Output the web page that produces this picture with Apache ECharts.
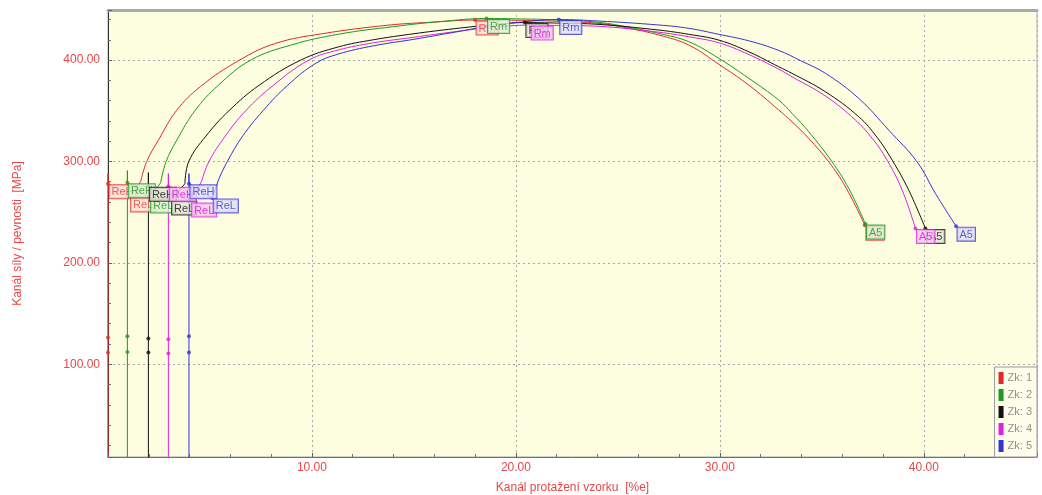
<!DOCTYPE html>
<html>
<head>
<meta charset="utf-8">
<script src="https://cdn.jsdelivr.net/npm/echarts@6/dist/echarts.min.js"></script>
<style>
  html, body { margin: 0; padding: 0; background: #ffffff; }
  #chart { width: 1042px; height: 495px; }
</style>
</head>
<body>
<div id="chart"></div>
<script>
// Tensile test: force / strength channel vs. specimen elongation, five specimens
const specimens = ['Zk: 1', 'Zk: 2', 'Zk: 3', 'Zk: 4', 'Zk: 5'];
const pointNames = ['ReH', 'ReL', 'Rm', 'A5'];

// elastic spike top of each specimen [MPa]
const elasticTop = [288, 291, 289, 288, 288];

// evaluation points [elongation %, stress MPa]
const reH = [[0, 278], [0.95, 279], [1.98, 275.5], [2.96, 275.5], [3.97, 278]];
const reL = [[1.06, 265], [2.04, 264], [3.07, 262], [4.05, 260], [5.11, 264]];
const rm  = [[18.0, 439.5], [18.56, 441], [20.44, 437], [20.7, 434.5], [22.1, 440]];
const a5  = [[37.11, 237.2], [37.14, 238.2], [40.08, 233.9], [39.59, 233.9], [41.58, 236.2]];

// modulus evaluation points on the elastic line (upper, lower)
const modulusPts = [
  [[0, 126.3], [0, 111.5]],
  [[0.95, 127.6], [0.95, 112]],
  [[1.98, 125.3], [1.98, 111.5]],
  [[2.96, 124.6], [2.96, 110.5]],
  [[3.97, 127.6], [3.97, 111.5]]
];

// strain hardening branch (after yield, before Rm)
const rise1 = [[1.6, 280], [1.9, 300], [2.5, 322], [3.35, 350], [4.54, 374], [6.45, 400], [8.22, 416.5], [10.5, 426], [13.77, 434.5], [16, 437.5]];
const rise2 = [[2.58, 279], [2.85, 300], [3.4, 322], [4.26, 350], [5.4, 375], [7.0, 400], [9.0, 415], [11.3, 425.5], [14, 433], [16.3, 438]];
const rise3 = [[3.77, 278], [3.96, 300], [4.8, 325], [5.93, 350], [7.4, 375], [9.45, 400], [11.3, 413], [13, 420], [15, 426], [17, 431], [18.7, 434.5]];
const rise4 = [[4.6, 281], [4.95, 300], [5.75, 325], [6.75, 350], [8.1, 375], [9.85, 400], [11.3, 410], [13, 417], [15, 422.5], [17, 428], [18.7, 432]];
const rise5 = [[5.44, 283], [5.85, 300], [6.6, 325], [7.6, 350], [8.8, 375], [10.2, 397], [11.3, 406], [13, 414], [15, 420.5], [17, 427.5], [19, 434.5], [20.8, 438.5]];

// necking branch (after Rm, before fracture)
const fall1 = [[20, 439.3], [22, 438.3], [24.07, 436.2], [25.5, 431.5], [27.01, 424.7], [28.48, 414.8], [29.95, 395.8], [31.42, 375.3], [32.89, 350.7], [33.54, 339.1], [34.36, 322.7], [35.34, 299.6], [36.16, 275]];
const fall2 = [[20, 440.7], [22, 439.6], [24.07, 437.2], [25.5, 432.5], [27.01, 426.3], [28.48, 418.1], [29.95, 401.7], [31.42, 382], [32.89, 360.5], [33.54, 347.4], [34.36, 329.3], [35.5, 299.6], [36.32, 273.4]];
const fall3 = [[22, 436.5], [24.07, 435.2], [27.01, 429.6], [28.48, 425.4], [29.95, 419.7], [31.42, 408.2], [32.89, 393.4], [33.54, 386.9], [35.18, 368.7], [36.81, 344.1], [37.7, 324], [38.45, 301.3], [39.26, 271.7]];
const fall4 = [[22, 434.2], [24.07, 433.3], [27.01, 427.5], [28.48, 423], [29.95, 417], [31.42, 405.5], [32.89, 391], [33.54, 383.5], [35.18, 364.5], [36.65, 340.8], [37.5, 322], [38.2, 301.3], [38.94, 271.7]];
const fall5 = [[24.07, 438.5], [27.01, 434.6], [28.48, 431.3], [29.95, 425.4], [31.42, 419], [32.89, 409.5], [33.95, 399.5], [35.18, 386.9], [36.81, 362.2], [38.28, 330.9], [39.67, 299.6], [40.57, 268.5]];

const rises = [rise1, rise2, rise3, rise4, rise5];
const falls = [fall1, fall2, fall3, fall4, fall5];

// styling
const lineColors  = ['#e02a2a', '#1f9a1f', '#111111', '#e020e0', '#3434d4'];
const labelText   = ['#e04040', '#2a9a2a', '#111111', '#d020d0', '#3a3ad0'];
const labelFill   = ['#fbe0da', '#dcefd6', '#e2e2da', '#f6c4f4', '#dedef6'];
const axisRed = '#e44848';
const fontFam = 'Liberation Sans, Arial, sans-serif';

// elastic line, yield drop and the step to the start of hardening
function buildElastic(i) {
  const x0 = reH[i][0];
  return [[x0, 0], [x0, elasticTop[i]], reH[i], reL[i], rises[i][0]];
}

// hardening + necking, ending at fracture
function buildPlastic(i) {
  return rises[i].concat([rm[i]], falls[i], [a5[i]]);
}

const elasticSeries = specimens.map((name, i) => ({
  name: name,
  type: 'line',
  data: buildElastic(i),
  showSymbol: false,
  lineStyle: { color: lineColors[i], width: 1 },
  itemStyle: { color: lineColors[i] },
  z: 2,
  silent: true
}));

const plasticSeries = specimens.map((name, i) => ({
  name: name,
  type: 'line',
  data: buildPlastic(i),
  showSymbol: false,
  smooth: 0.4,
  lineStyle: { color: lineColors[i], width: 1 },
  itemStyle: { color: lineColors[i] },
  z: 2,
  silent: true
}));

const pointSeries = specimens.map((name, i) => {
  const labelled = [reH[i], reL[i], rm[i], a5[i]].map((p, k) => ({
    value: p,
    label: {
      show: true,
      formatter: pointNames[k],
      position: [3.5, 3.5],
      color: labelText[i],
      backgroundColor: labelFill[i],
      borderColor: lineColors[i],
      borderWidth: 1,
      padding: [1, 2, 0, 2],
      fontSize: 11,
      lineHeight: 12,
      fontFamily: fontFam
    }
  }));
  const plain = modulusPts[i].map(p => ({ value: p }));
  return {
    name: name,
    type: 'scatter',
    data: plain.concat(labelled),
    symbol: 'circle',
    symbolSize: 4,
    itemStyle: { color: lineColors[i] },
    clip: false,
    z: 3,
    silent: true
  };
});

const chart = echarts.init(document.getElementById('chart'), null, { renderer: 'canvas' });
chart.setOption({
  animation: false,
  backgroundColor: '#ffffff',
  grid: {
    left: 108, top: 10, right: 5, bottom: 38,
    outerBoundsMode: 'none',
    containLabel: false,
    show: true,
    backgroundColor: '#fdfde0',
    borderColor: '#a8a8a8',
    borderWidth: 1
  },
  legend: {
    data: specimens,
    orient: 'vertical',
    right: 5,
    bottom: 38,
    icon: 'rect',
    itemWidth: 5,
    itemHeight: 12,
    itemGap: 5,
    padding: [5, 5, 5, 4],
    backgroundColor: '#fdfdea',
    borderColor: '#9a9a9a',
    borderWidth: 1,
    textStyle: { color: '#909090', fontSize: 11, fontFamily: fontFam, padding: [0, 0, 0, -1] },
    selectedMode: false
  },
  xAxis: [
    {
      type: 'value',
      position: 'bottom',
      min: 0,
      max: 45.55,
      interval: 10,
      name: 'Kanál protažení vzorku  [%e]',
      nameLocation: 'middle',
      nameGap: 25,
      nameTextStyle: { color: axisRed, fontSize: 12, fontFamily: fontFam },
      axisLine: { show: true, lineStyle: { color: '#707070', width: 1 } },
      axisTick: { show: true, inside: true, length: 4, lineStyle: { color: '#606060' } },
      minorTick: { show: true, splitNumber: 5, length: 3, lineStyle: { color: '#707070' } },
      axisLabel: {
        showMinLabel: false,
        showMaxLabel: false,
        formatter: v => v.toFixed(2),
        color: axisRed,
        fontSize: 12,
        margin: 5,
        fontFamily: fontFam
      },
      splitLine: { show: true, lineStyle: { type: [2, 3], color: '#a8a8a8', width: 1 } }
    },
    {
      type: 'value',
      position: 'top',
      min: 0,
      max: 45.55,
      axisLine: { show: true, lineStyle: { color: '#aaaaaa', width: 3 } },
      axisTick: { show: false },
      axisLabel: { show: false },
      splitLine: { show: false }
    }
  ],
  yAxis: {
    type: 'value',
    min: 8.5,
    max: 449.4,
    splitNumber: 5,
    name: 'Kanál síly / pevnosti  [MPa]',
    nameLocation: 'middle',
    nameGap: 84,
    nameTextStyle: { color: axisRed, fontSize: 12, fontFamily: fontFam },
    axisLine: { show: true, lineStyle: { color: '#303030', width: 1 } },
    axisTick: { show: true, inside: true, length: 4, lineStyle: { color: '#606060' } },
    minorTick: { show: true, splitNumber: 5, length: 3, lineStyle: { color: '#707070' } },
    axisLabel: {
      showMinLabel: false,
      showMaxLabel: false,
      formatter: v => v.toFixed(2),
      color: axisRed,
      fontSize: 12,
      margin: 8,
      fontFamily: fontFam
    },
    splitLine: { show: true, lineStyle: { type: [2, 3], color: '#a8a8a8', width: 1 } }
  },
  series: elasticSeries.concat(plasticSeries, pointSeries)
});
</script>
</body>
</html>
